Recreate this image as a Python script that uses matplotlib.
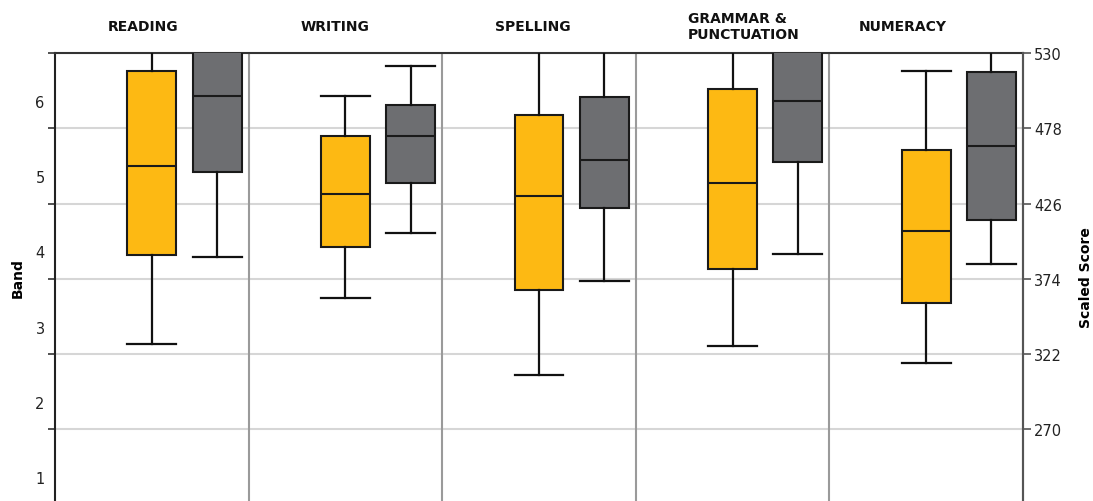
import matplotlib
matplotlib.use("Agg")
import matplotlib.pyplot as plt
from matplotlib.ticker import FixedLocator, NullFormatter, FixedFormatter

# ---------------- data ----------------
categories = ["READING", "WRITING", "SPELLING", "GRAMMAR &\nPUNCTUATION", "NUMERACY"]

# yellow series (school) : whislo, q1, median, q3, whishi
yellow_whislo = [328.8, 360.6, 307.6, 327.4, 316.1]
yellow_q1     = [390.5, 396.2, 366.5, 380.8, 357.1]
yellow_med    = [452.2, 432.8, 431.5, 440.2, 406.9]
yellow_q3     = [517.8, 472.5, 487.2, 505.1, 463.0]
yellow_whishi = [545.0, 500.3, 545.0, 545.0, 517.6]

# grey series (state)
grey_whislo = [389.3, 405.5, 372.5, 391.2, 384.3]
grey_q1     = [447.6, 440.0, 422.7, 454.5, 414.9]
grey_med    = [500.1, 472.5, 456.1, 496.9, 466.0]
grey_q3     = [545.0, 493.9, 499.8, 545.0, 517.1]
grey_whishi = [560.0, 520.8, 545.0, 560.0, 545.0]

score_ticks = [270, 322, 374, 426, 478, 530]
band_labels = ["1", "2", "3", "4", "5", "6"]
band_label_scores = [237, 289, 341, 393, 445, 497]

# ---------------- style ----------------
W, H = 1093, 502
fig = plt.figure(figsize=(W / 100, H / 100), dpi=100)
left_px, right_px, top_px = 55, 1023, 54
aw = right_px - left_px
ax = fig.add_axes([left_px / W, 0, aw / W, 1 - top_px / H])

ymin, ymax = 220.6, 530
YELLOW = "#FDB913"
GREY = "#6D6E71"
offset_grey = 0.337
box_w = 0.253


def stats(lo, q1, med, q3, hi):
    return [dict(whislo=a, q1=b, med=c, q3=d, whishi=e, fliers=[])
            for a, b, c, d, e in zip(lo, q1, med, q3, hi)]


n = len(categories)
pos_y = list(range(n))
pos_g = [p + offset_grey for p in pos_y]

for st, pos, col in [
    (stats(yellow_whislo, yellow_q1, yellow_med, yellow_q3, yellow_whishi), pos_y, YELLOW),
    (stats(grey_whislo, grey_q1, grey_med, grey_q3, grey_whishi), pos_g, GREY),
]:
    ax.bxp(st, positions=pos, widths=box_w, patch_artist=True, showfliers=False,
           boxprops=dict(facecolor=col, edgecolor="#1a1a1a", linewidth=1.5),
           medianprops=dict(color="#1a1a1a", linewidth=1.5),
           whiskerprops=dict(color="#111111", linewidth=1.6),
           capprops=dict(color="#111111", linewidth=1.6),
           capwidths=box_w, manage_ticks=False, zorder=3)

ax.set_xlim(-0.5, n - 0.5)
ax.set_ylim(ymin, ymax)

# gridlines
for t in score_ticks:
    ax.axhline(t, color="#d6d6d6", linewidth=1.5, zorder=1)
# category separators
for i in range(n - 1):
    ax.axvline(i + 0.5, color="#9a9a9a", linewidth=1.5, zorder=2)

ax.set_xticks([])
ax.spines["bottom"].set_visible(False)
ax.spines["top"].set_color("#333333")
ax.spines["top"].set_linewidth(1.5)
ax.spines["left"].set_color("#222222")
ax.spines["left"].set_linewidth(1.5)
ax.spines["right"].set_color("#555555")
ax.spines["right"].set_linewidth(1.5)

# left axis: ticks at gridlines, band labels between
ax.yaxis.set_major_locator(FixedLocator(score_ticks))
ax.yaxis.set_major_formatter(NullFormatter())
ax.yaxis.set_minor_locator(FixedLocator(band_label_scores))
ax.yaxis.set_minor_formatter(FixedFormatter(band_labels))
ax.tick_params(axis="y", which="major", direction="out", length=5, width=1.2, color="#333333")
ax.tick_params(axis="y", which="minor", length=0, pad=7.5, labelsize=10.5, labelcolor="#222222")
ax.set_ylabel("Band", fontsize=10, fontweight="bold")
ax.yaxis.set_label_coords(-30 / aw, 0.5)

# right axis
ax2 = ax.twinx()
ax2.set_ylim(ymin, ymax)
ax2.set_yticks(score_ticks)
ax2.set_yticklabels([str(t) for t in score_ticks])
ax2.tick_params(axis="y", direction="out", length=6, width=1.2, color="#555555",
                labelsize=10.5, labelcolor="#222222", pad=2)
for s in ["top", "left", "bottom"]:
    ax2.spines[s].set_visible(False)
ax2.spines["right"].set_color("#555555")
ax2.spines["right"].set_linewidth(1.5)
ax2.set_ylabel("Scaled Score", fontsize=10, fontweight="bold")
ax2.yaxis.set_label_coords(1 + 56 / aw, 0.5)

# category titles (left-aligned offsets within each category)
title_offsets = [0.27, 0.27, 0.275, 0.27, 0.15]
for i, (cat, off) in enumerate(zip(categories, title_offsets)):
    y = 1 + (top_px - 27) / (H - top_px)
    ax.text(i - 0.5 + off, y, cat, transform=ax.get_xaxis_transform(),
            ha="left", va="center", fontsize=10, fontweight="bold",
            color="#111111", linespacing=1.1)

fig.savefig("out.png", dpi=100)
